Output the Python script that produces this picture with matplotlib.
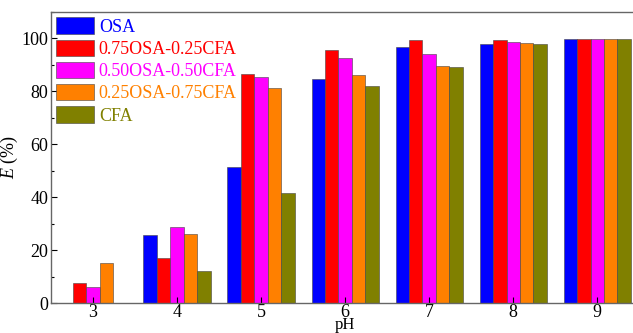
import matplotlib
matplotlib.use("Agg")
import matplotlib.pyplot as plt
import numpy as np
from matplotlib.ticker import MultipleLocator

ph = [3, 4, 5, 6, 7, 8, 9]
series_names = ["OSA", "0.75OSA-0.25CFA", "0.50OSA-0.50CFA", "0.25OSA-0.75CFA", "CFA"]
osa = [0, 25.6, 51.3, 84.8, 96.9, 97.9, 99.8]
osa75 = [7.5, 17.0, 86.7, 95.7, 99.4, 99.4, 99.8]
osa50 = [6.0, 28.8, 85.3, 92.8, 94.3, 98.6, 99.7]
osa25 = [15.2, 26.2, 81.4, 86.2, 89.4, 98.2, 99.8]
cfa = [0, 12.0, 41.7, 82.1, 89.3, 97.9, 99.8]
colors = ["#0000FF", "#FF0000", "#FF00FF", "#FF8000", "#808000"]

plt.rcParams['font.family'] = ['Liberation Serif', 'DejaVu Serif']
plt.rcParams['mathtext.fontset'] = 'custom'
plt.rcParams['mathtext.it'] = 'Liberation Serif:italic'
plt.rcParams['mathtext.rm'] = 'Liberation Serif'

fig = plt.figure(figsize=(6.33, 3.33), dpi=100)
ax = fig.add_axes([51/633, 30/333, (633-51)/633 + 0.01, (303-12)/333])

data = [osa, osa75, osa50, osa25, cfa]
w = 0.16
x = np.array(ph, dtype=float)
for i, (vals, c, n) in enumerate(zip(data, colors, series_names)):
    ax.bar(x + (i - 2) * w, vals, width=w, color=c, edgecolor="#444444", linewidth=0.4, label=n)

ax.set_xlim(2.5, 9.5)
ax.set_ylim(0, 110)
ax.set_xticks(ph)
ax.yaxis.set_major_locator(MultipleLocator(20))
ax.yaxis.set_minor_locator(MultipleLocator(10))
ax.tick_params(axis='both', direction='in', labelsize=13, length=4, width=0.8)
ax.tick_params(axis='y', which='minor', direction='in', length=2.5, width=0.8)
ax.tick_params(axis='x', pad=1)
ax.tick_params(axis='y', pad=2)
for s in ax.spines.values():
    s.set_color("#666666")
    s.set_linewidth(1.0)

ax.set_ylabel(r"$E$ (%)", fontsize=13, labelpad=1)
ax.set_xlabel("pH", fontsize=12, labelpad=-3)

leg = ax.legend(loc="upper left", frameon=False, fontsize=13, handlelength=2.1, handleheight=1.0,
                handletextpad=0.25, labelspacing=0.22, borderaxespad=0.2, borderpad=0.1)
for t, c in zip(leg.get_texts(), colors):
    t.set_color(c)

fig.savefig("out.png", dpi=100)
